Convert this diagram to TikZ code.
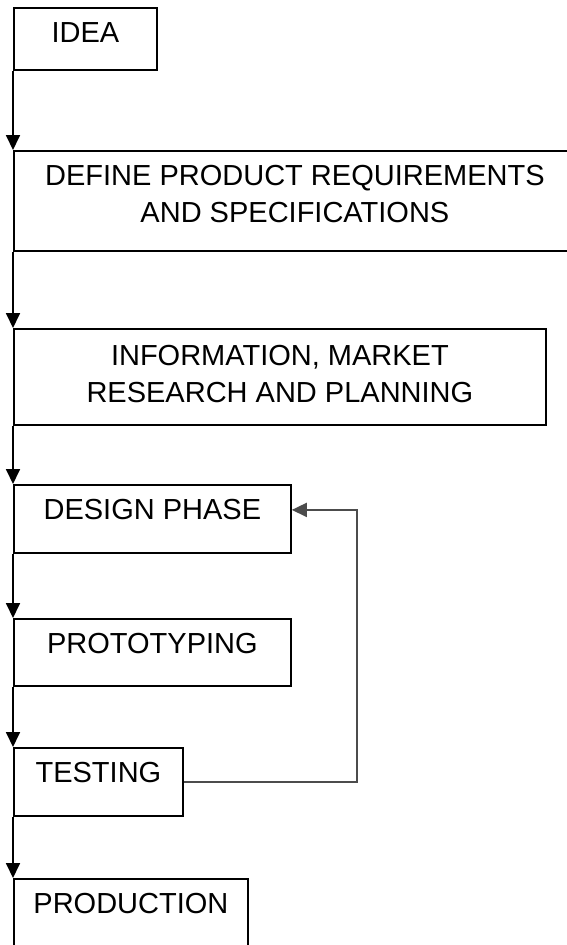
\documentclass[tikz,border=0pt]{standalone}
\usepackage{fontspec}
\setmainfont{Liberation Sans}
\usetikzlibrary{arrows.meta}
\tikzset{
  stagebox/.style={draw,line width=1.8pt,anchor=north west,inner sep=0pt,align=center,
    font=\fontsize{29}{36.5}\selectfont,text height=35pt},
  flowarrow/.style={line width=1.8pt,-{Triangle[length=15pt,width=14pt]}},
}

\begin{document}
\begin{tikzpicture}[x=1pt,y=-1pt]
  \useasboundingbox (0,0) rectangle (567,945);
  % stages, top to bottom
  \node[stagebox,minimum width=143pt,text depth=27pt] (idea) at (13,7) {IDEA};
  \node[stagebox,minimum width=562pt,text height=71.5pt,text depth=28.5pt] (define) at (13,150)
    {DEFINE PRODUCT REQUIREMENTS\\AND SPECIFICATIONS};
  \node[stagebox,minimum width=532pt,text height=73.5pt,text depth=22.5pt] (info) at (13,328)
    {INFORMATION, MARKET\\RESEARCH AND PLANNING};
  \node[stagebox,minimum width=277pt,text depth=33pt] (design) at (13,484) {DESIGN PHASE};
  \node[stagebox,minimum width=277pt,text depth=32pt] (proto) at (13,618) {PROTOTYPING};
  \node[stagebox,minimum width=169pt,text depth=33pt] (testing) at (13,747) {TESTING};
  \node[stagebox,minimum width=234pt,text depth=36pt] (production) at (13,878) {PRODUCTION};
  % down the left edge
  \draw[flowarrow] (idea.south west) -- (define.north west);
  \draw[flowarrow] (define.south west) -- (info.north west);
  \draw[flowarrow] (info.south west) -- (design.north west);
  \draw[flowarrow] (design.south west) -- (proto.north west);
  \draw[flowarrow] (proto.south west) -- (testing.north west);
  \draw[flowarrow] (testing.south west) -- (production.north west);
  % loop back from testing
  \draw[flowarrow,draw=black!70] (testing.east) -- ++(173,0) |- ([yshift=9pt]design.east);
\end{tikzpicture}
\end{document}
